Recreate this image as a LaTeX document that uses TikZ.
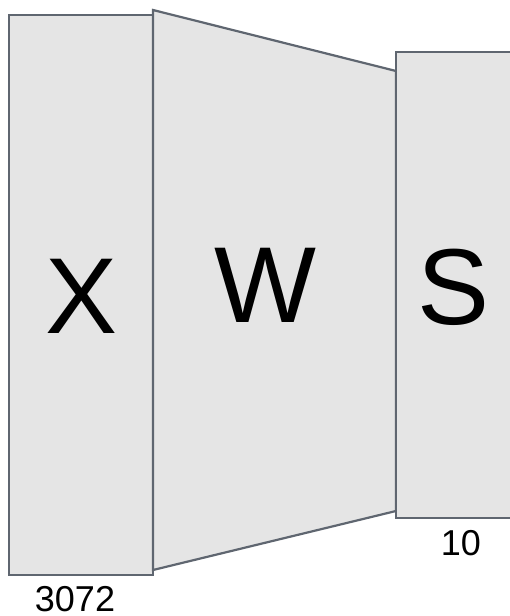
\documentclass[tikz,border=0pt]{standalone}
\usepackage{fontspec}
\setmainfont{Liberation Sans}
\definecolor{boxfill}{HTML}{E5E5E5}
\definecolor{boxline}{HTML}{5F6670}
\begin{document}
\begin{tikzpicture}[x=1pt,y=-1pt,
  layer/.style={fill=boxfill,draw=boxline,line width=2.2pt,line join=miter},
  big/.style={font=\fontsize{108}{108}\selectfont,anchor=base,inner sep=0pt},
  dim/.style={font=\fontsize{36}{36}\selectfont,anchor=base,inner sep=0pt}]
\useasboundingbox (0,0) rectangle (510,616);
\begin{scope}
\clip (0,0) rectangle (510,616);
\coordinate (xa) at (9,15);
\coordinate (xb) at (153,575);
\coordinate (wa) at (153,10);
\coordinate (wb) at (396,71);
\coordinate (wc) at (396,511);
\coordinate (wd) at (153,570);
\coordinate (sa) at (396,52);
\coordinate (sb) at (530,518);
\draw[layer] (xa) rectangle (xb);
\draw[layer] (wa) -- (wb) -- (wc) -- (wd) -- cycle;
\draw[layer] (sa) rectangle (sb);
\end{scope}
\node[big] (lx) at (82,333) {X};
\node[big] (lw) at (265,322) {W};
\node[big] (ls) at (454,324) {S};
\node[dim] (n1) at (75,611) {3072};
\node[dim] (n2) at (461,555) {10};
\end{tikzpicture}
\end{document}
